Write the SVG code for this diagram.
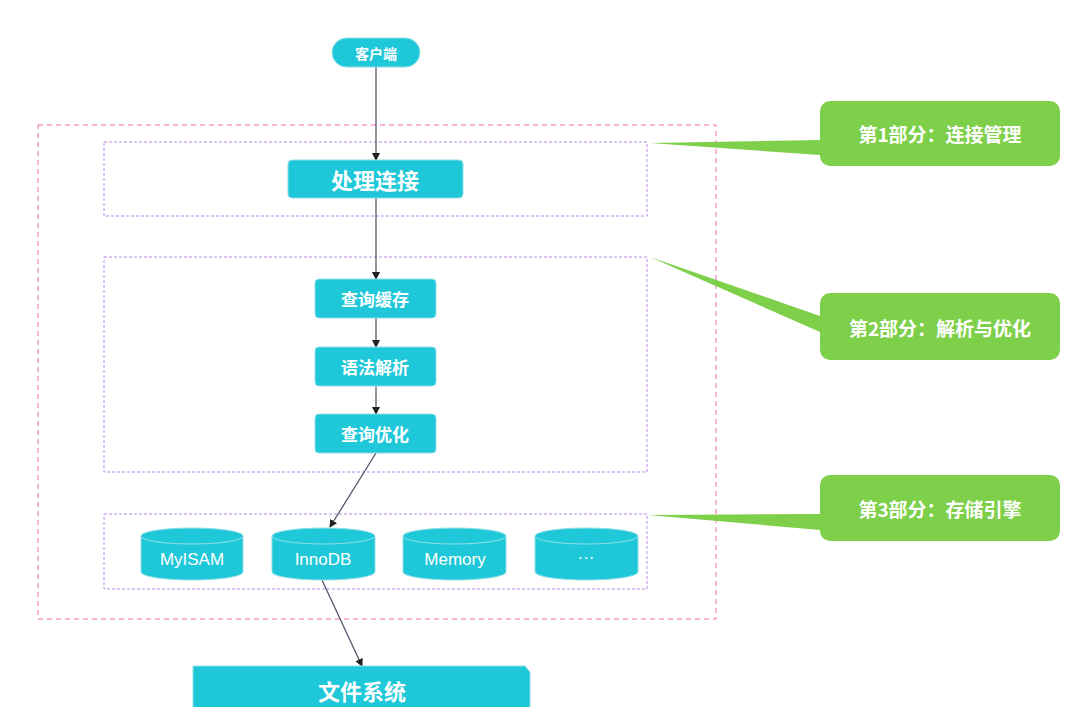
<svg xmlns="http://www.w3.org/2000/svg" width="1080" height="707" viewBox="0 0 1080 707">
<style>
.n{fill:#1fc8d8;stroke:#8fdfe8;stroke-width:1}
.t{fill:#fff;font-family:"Noto Sans CJK SC","Liberation Sans",sans-serif;font-weight:bold;text-anchor:middle;dominant-baseline:central}
.e{fill:#fff;font-family:"Liberation Sans",sans-serif;text-anchor:middle;dominant-baseline:central;font-size:17px}
.g{fill:#7ed04b}
.c{stroke:#4a4a66;stroke-width:1.2;fill:none;marker-end:url(#a)}
.pb{fill:none;stroke:#b48ae6;stroke-width:1;stroke-dasharray:3 2}
</style>
<defs><marker id="a" markerWidth="8" markerHeight="8" refX="7" refY="4" orient="auto" markerUnits="userSpaceOnUse"><path d="M0,0 L8,4 L0,8 z" fill="#222"/></marker></defs>
<rect width="1080" height="707" fill="#fff"/>
<rect x="38" y="125" width="678" height="494" fill="none" stroke="#f06aa8" stroke-width="1" stroke-dasharray="5 4"/>
<rect class="pb" x="104" y="142" width="543" height="74"/>
<rect class="pb" x="104" y="257" width="543" height="215"/>
<rect class="pb" x="104" y="514" width="543" height="75"/>
<g id="callout1"><path class="g" d="M650,143 L820,140 L820,155 Z"/><rect class="g" x="820" y="101" width="240" height="65" rx="10"/><text class="t" x="940" y="133" font-size="19">第1部分：连接管理</text></g>
<g id="callout2"><path class="g" d="M650,257 L820,316 L820,332 Z"/><rect class="g" x="820" y="293" width="240" height="67" rx="10"/><text class="t" x="940" y="327" font-size="19">第2部分：解析与优化</text></g>
<g id="callout3"><path class="g" d="M648,515 L820,514 L820,530 Z"/><rect class="g" x="820" y="475" width="240" height="66" rx="10"/><text class="t" x="940" y="508" font-size="19">第3部分：存储引擎</text></g>
<g id="connectors">
<path class="c" d="M376,67 L376,160"/>
<path class="c" d="M376,198 L376,279"/>
<path class="c" d="M376,318 L376,347"/>
<path class="c" d="M376,386 L376,414"/>
<path class="c" d="M376,453 L330,527"/>
<path class="c" d="M322,580 L362,666"/>
</g>
<g id="client"><rect class="n" x="332" y="38" width="88" height="29" rx="14.5"/><text class="t" x="376" y="53" font-size="14">客户端</text></g>
<g id="conn"><rect class="n" x="288" y="160" width="175" height="38" rx="4"/><text class="t" x="375" y="179" font-size="22">处理连接</text></g>
<g id="cache"><rect class="n" x="315" y="279" width="121" height="39" rx="4"/><text class="t" x="375" y="298" font-size="17">查询缓存</text></g>
<g id="parse"><rect class="n" x="315" y="347" width="121" height="39" rx="4"/><text class="t" x="375" y="366" font-size="17">语法解析</text></g>
<g id="opt"><rect class="n" x="315" y="414" width="121" height="39" rx="4"/><text class="t" x="375" y="433" font-size="17">查询优化</text></g>
<g id="myisam"><path class="n" d="M141,536 A51,8 0 0 1 243,536 L243,572 A51,8 0 0 1 141,572 Z"/><path d="M141,536 A51,8 0 0 0 243,536" fill="none" stroke="#8fdfe8"/><text class="e" x="192" y="559">MyISAM</text></g>
<g id="innodb"><path class="n" d="M272,536 A51.5,8 0 0 1 375,536 L375,572 A51.5,8 0 0 1 272,572 Z"/><path d="M272,536 A51.5,8 0 0 0 375,536" fill="none" stroke="#8fdfe8"/><text class="e" x="323" y="559">InnoDB</text></g>
<g id="memory"><path class="n" d="M403,536 A51.5,8 0 0 1 506,536 L506,572 A51.5,8 0 0 1 403,572 Z"/><path d="M403,536 A51.5,8 0 0 0 506,536" fill="none" stroke="#8fdfe8"/><text class="e" x="455" y="559">Memory</text></g>
<g id="more"><path class="n" d="M535,536 A51.5,8 0 0 1 638,536 L638,572 A51.5,8 0 0 1 535,572 Z"/><path d="M535,536 A51.5,8 0 0 0 638,536" fill="none" stroke="#8fdfe8"/><text class="e" x="586" y="557">···</text></g>
<g id="fs"><path class="n" d="M193,666 L525,666 L530,672 L530,710 L193,710 Z"/><text class="t" x="362" y="690" font-size="22">文件系统</text></g>
</svg>
